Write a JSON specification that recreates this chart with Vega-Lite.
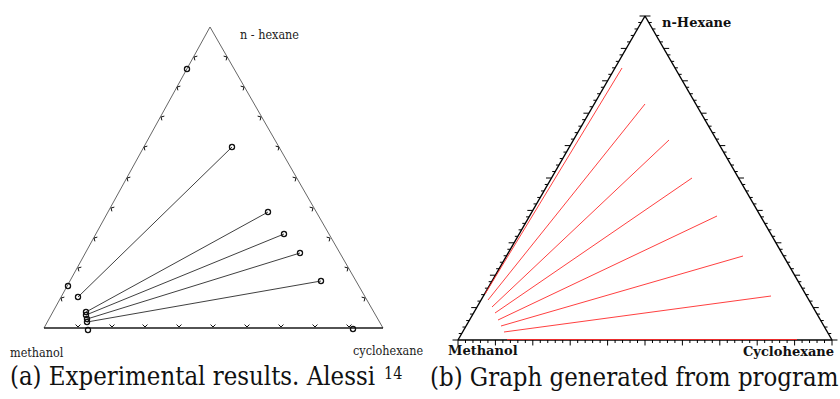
{
"$schema": "https://vega.github.io/schema/vega-lite/v6.json",
"width": 840, "height": 399, "autosize": "none", "padding": 0,
"background": "white",
"config": {"view": {"stroke": null}},
"datasets": {
"aSides": [{"x":44,"y":328,"x2":210,"y2":27},{"x":210,"y":27,"x2":383,"y2":328}],
"aBase": [{"x":44,"y":328,"x2":383,"y2":328}],
"aTickB": [{"x":78,"y":327},{"x":112,"y":327},{"x":145,"y":327},{"x":179,"y":327},{"x":213,"y":327},{"x":247,"y":327},{"x":281,"y":327},{"x":315,"y":327},{"x":349,"y":327}],
"aTickL": [{"x":61,"y":298},{"x":78,"y":268},{"x":94,"y":238},{"x":111,"y":208},{"x":127,"y":178},{"x":144,"y":147},{"x":161,"y":117},{"x":177,"y":87},{"x":194,"y":57}],
"aTickR": [{"x":365,"y":298},{"x":348,"y":268},{"x":330,"y":238},{"x":313,"y":208},{"x":296,"y":178},{"x":279,"y":147},{"x":261,"y":117},{"x":244,"y":87},{"x":227,"y":57}],
"aTies": [{"x":78,"y":297,"x2":232,"y2":147},{"x":86,"y":312,"x2":268,"y2":212},{"x":86,"y":315,"x2":284,"y2":234},{"x":87,"y":319,"x2":300,"y2":253},{"x":87,"y":322,"x2":321,"y2":281}],
"aPts": [{"x":187,"y":69},{"x":68,"y":286},{"x":78,"y":297},{"x":232,"y":147},{"x":268,"y":212},{"x":284,"y":234},{"x":300,"y":253},{"x":321,"y":281},{"x":86,"y":312},{"x":86,"y":315},{"x":87,"y":319},{"x":87,"y":322},{"x":88,"y":330},{"x":353,"y":329}],
"aLabels": [{"t":"n - hexane","x":240,"y":39},{"t":"methanol","x":10,"y":357},{"t":"cyclohexane","x":353,"y":355}],
"bEdges": [{"x":458,"y":340,"x2":645,"y2":16},{"x":645,"y":16,"x2":832,"y2":340},{"x":458,"y":340,"x2":832,"y2":340}],
"bTicks": [
{"e":"bottom","x":458,"y":340,"k":"major"},{"e":"bottom","x":465.48,"y":340,"k":"minor"},{"e":"bottom","x":472.96,"y":340,"k":"minor"},{"e":"bottom","x":480.44,"y":340,"k":"minor"},{"e":"bottom","x":487.92,"y":340,"k":"minor"},
{"e":"bottom","x":495.4,"y":340,"k":"major"},{"e":"bottom","x":502.88,"y":340,"k":"minor"},{"e":"bottom","x":510.36,"y":340,"k":"minor"},{"e":"bottom","x":517.84,"y":340,"k":"minor"},{"e":"bottom","x":525.32,"y":340,"k":"minor"},
{"e":"bottom","x":532.8,"y":340,"k":"major"},{"e":"bottom","x":540.28,"y":340,"k":"minor"},{"e":"bottom","x":547.76,"y":340,"k":"minor"},{"e":"bottom","x":555.24,"y":340,"k":"minor"},{"e":"bottom","x":562.72,"y":340,"k":"minor"},
{"e":"bottom","x":570.2,"y":340,"k":"major"},{"e":"bottom","x":577.68,"y":340,"k":"minor"},{"e":"bottom","x":585.16,"y":340,"k":"minor"},{"e":"bottom","x":592.64,"y":340,"k":"minor"},{"e":"bottom","x":600.12,"y":340,"k":"minor"},
{"e":"bottom","x":607.6,"y":340,"k":"major"},{"e":"bottom","x":615.08,"y":340,"k":"minor"},{"e":"bottom","x":622.56,"y":340,"k":"minor"},{"e":"bottom","x":630.04,"y":340,"k":"minor"},{"e":"bottom","x":637.52,"y":340,"k":"minor"},
{"e":"bottom","x":645,"y":340,"k":"major"},{"e":"bottom","x":652.48,"y":340,"k":"minor"},{"e":"bottom","x":659.96,"y":340,"k":"minor"},{"e":"bottom","x":667.44,"y":340,"k":"minor"},{"e":"bottom","x":674.92,"y":340,"k":"minor"},
{"e":"bottom","x":682.4,"y":340,"k":"major"},{"e":"bottom","x":689.88,"y":340,"k":"minor"},{"e":"bottom","x":697.36,"y":340,"k":"minor"},{"e":"bottom","x":704.84,"y":340,"k":"minor"},{"e":"bottom","x":712.32,"y":340,"k":"minor"},
{"e":"bottom","x":719.8,"y":340,"k":"major"},{"e":"bottom","x":727.28,"y":340,"k":"minor"},{"e":"bottom","x":734.76,"y":340,"k":"minor"},{"e":"bottom","x":742.24,"y":340,"k":"minor"},{"e":"bottom","x":749.72,"y":340,"k":"minor"},
{"e":"bottom","x":757.2,"y":340,"k":"major"},{"e":"bottom","x":764.68,"y":340,"k":"minor"},{"e":"bottom","x":772.16,"y":340,"k":"minor"},{"e":"bottom","x":779.64,"y":340,"k":"minor"},{"e":"bottom","x":787.12,"y":340,"k":"minor"},
{"e":"bottom","x":794.6,"y":340,"k":"major"},{"e":"bottom","x":802.08,"y":340,"k":"minor"},{"e":"bottom","x":809.56,"y":340,"k":"minor"},{"e":"bottom","x":817.04,"y":340,"k":"minor"},{"e":"bottom","x":824.52,"y":340,"k":"minor"},
{"e":"bottom","x":832,"y":340,"k":"major"},
{"e":"left","x":458,"y":340,"k":"major"},{"e":"left","x":461.74,"y":333.52,"k":"minor"},{"e":"left","x":465.48,"y":327.04,"k":"minor"},{"e":"left","x":469.22,"y":320.56,"k":"minor"},{"e":"left","x":472.96,"y":314.08,"k":"minor"},
{"e":"left","x":476.7,"y":307.6,"k":"major"},{"e":"left","x":480.44,"y":301.12,"k":"minor"},{"e":"left","x":484.18,"y":294.64,"k":"minor"},{"e":"left","x":487.92,"y":288.16,"k":"minor"},{"e":"left","x":491.66,"y":281.68,"k":"minor"},
{"e":"left","x":495.4,"y":275.2,"k":"major"},{"e":"left","x":499.14,"y":268.72,"k":"minor"},{"e":"left","x":502.88,"y":262.24,"k":"minor"},{"e":"left","x":506.62,"y":255.76,"k":"minor"},{"e":"left","x":510.36,"y":249.28,"k":"minor"},
{"e":"left","x":514.1,"y":242.8,"k":"major"},{"e":"left","x":517.84,"y":236.32,"k":"minor"},{"e":"left","x":521.58,"y":229.84,"k":"minor"},{"e":"left","x":525.32,"y":223.36,"k":"minor"},{"e":"left","x":529.06,"y":216.88,"k":"minor"},
{"e":"left","x":532.8,"y":210.4,"k":"major"},{"e":"left","x":536.54,"y":203.92,"k":"minor"},{"e":"left","x":540.28,"y":197.44,"k":"minor"},{"e":"left","x":544.02,"y":190.96,"k":"minor"},{"e":"left","x":547.76,"y":184.48,"k":"minor"},
{"e":"left","x":551.5,"y":178,"k":"major"},{"e":"left","x":555.24,"y":171.52,"k":"minor"},{"e":"left","x":558.98,"y":165.04,"k":"minor"},{"e":"left","x":562.72,"y":158.56,"k":"minor"},{"e":"left","x":566.46,"y":152.08,"k":"minor"},
{"e":"left","x":570.2,"y":145.6,"k":"major"},{"e":"left","x":573.94,"y":139.12,"k":"minor"},{"e":"left","x":577.68,"y":132.64,"k":"minor"},{"e":"left","x":581.42,"y":126.16,"k":"minor"},{"e":"left","x":585.16,"y":119.68,"k":"minor"},
{"e":"left","x":588.9,"y":113.2,"k":"major"},{"e":"left","x":592.64,"y":106.72,"k":"minor"},{"e":"left","x":596.38,"y":100.24,"k":"minor"},{"e":"left","x":600.12,"y":93.76,"k":"minor"},{"e":"left","x":603.86,"y":87.28,"k":"minor"},
{"e":"left","x":607.6,"y":80.8,"k":"major"},{"e":"left","x":611.34,"y":74.32,"k":"minor"},{"e":"left","x":615.08,"y":67.84,"k":"minor"},{"e":"left","x":618.82,"y":61.36,"k":"minor"},{"e":"left","x":622.56,"y":54.88,"k":"minor"},
{"e":"left","x":626.3,"y":48.4,"k":"major"},{"e":"left","x":630.04,"y":41.92,"k":"minor"},{"e":"left","x":633.78,"y":35.44,"k":"minor"},{"e":"left","x":637.52,"y":28.96,"k":"minor"},{"e":"left","x":641.26,"y":22.48,"k":"minor"},
{"e":"left","x":645,"y":16,"k":"major"},
{"e":"right","x":832,"y":340,"k":"major"},{"e":"right","x":828.26,"y":333.52,"k":"minor"},{"e":"right","x":824.52,"y":327.04,"k":"minor"},{"e":"right","x":820.78,"y":320.56,"k":"minor"},{"e":"right","x":817.04,"y":314.08,"k":"minor"},
{"e":"right","x":813.3,"y":307.6,"k":"major"},{"e":"right","x":809.56,"y":301.12,"k":"minor"},{"e":"right","x":805.82,"y":294.64,"k":"minor"},{"e":"right","x":802.08,"y":288.16,"k":"minor"},{"e":"right","x":798.34,"y":281.68,"k":"minor"},
{"e":"right","x":794.6,"y":275.2,"k":"major"},{"e":"right","x":790.86,"y":268.72,"k":"minor"},{"e":"right","x":787.12,"y":262.24,"k":"minor"},{"e":"right","x":783.38,"y":255.76,"k":"minor"},{"e":"right","x":779.64,"y":249.28,"k":"minor"},
{"e":"right","x":775.9,"y":242.8,"k":"major"},{"e":"right","x":772.16,"y":236.32,"k":"minor"},{"e":"right","x":768.42,"y":229.84,"k":"minor"},{"e":"right","x":764.68,"y":223.36,"k":"minor"},{"e":"right","x":760.94,"y":216.88,"k":"minor"},
{"e":"right","x":757.2,"y":210.4,"k":"major"},{"e":"right","x":753.46,"y":203.92,"k":"minor"},{"e":"right","x":749.72,"y":197.44,"k":"minor"},{"e":"right","x":745.98,"y":190.96,"k":"minor"},{"e":"right","x":742.24,"y":184.48,"k":"minor"},
{"e":"right","x":738.5,"y":178,"k":"major"},{"e":"right","x":734.76,"y":171.52,"k":"minor"},{"e":"right","x":731.02,"y":165.04,"k":"minor"},{"e":"right","x":727.28,"y":158.56,"k":"minor"},{"e":"right","x":723.54,"y":152.08,"k":"minor"},
{"e":"right","x":719.8,"y":145.6,"k":"major"},{"e":"right","x":716.06,"y":139.12,"k":"minor"},{"e":"right","x":712.32,"y":132.64,"k":"minor"},{"e":"right","x":708.58,"y":126.16,"k":"minor"},{"e":"right","x":704.84,"y":119.68,"k":"minor"},
{"e":"right","x":701.1,"y":113.2,"k":"major"},{"e":"right","x":697.36,"y":106.72,"k":"minor"},{"e":"right","x":693.62,"y":100.24,"k":"minor"},{"e":"right","x":689.88,"y":93.76,"k":"minor"},{"e":"right","x":686.14,"y":87.28,"k":"minor"},
{"e":"right","x":682.4,"y":80.8,"k":"major"},{"e":"right","x":678.66,"y":74.32,"k":"minor"},{"e":"right","x":674.92,"y":67.84,"k":"minor"},{"e":"right","x":671.18,"y":61.36,"k":"minor"},{"e":"right","x":667.44,"y":54.88,"k":"minor"},
{"e":"right","x":663.7,"y":48.4,"k":"major"},{"e":"right","x":659.96,"y":41.92,"k":"minor"},{"e":"right","x":656.22,"y":35.44,"k":"minor"},{"e":"right","x":652.48,"y":28.96,"k":"minor"},{"e":"right","x":648.74,"y":22.48,"k":"minor"},
{"e":"right","x":645,"y":16,"k":"major"}
],
"bLines": [{"x":485,"y":294,"x2":622,"y2":68},{"x":488,"y":300,"x2":645,"y2":104},{"x":492,"y":307,"x2":669,"y2":140},{"x":495,"y":313,"x2":692,"y2":178},{"x":498,"y":320,"x2":717,"y2":216},{"x":501,"y":326,"x2":743,"y2":256},{"x":504,"y":332,"x2":771,"y2":296},{"x":507,"y":339.5,"x2":797,"y2":339.5}],
"bLabels": [{"t":"n-Hexane","x":662,"y":27},{"t":"Methanol","x":448,"y":355},{"t":"Cyclohexane","x":743,"y":356}],
"captions": [{"t":"(a) Experimental results. Alessi","x":10,"y":385},{"t":"(b) Graph generated from program","x":430,"y":386}],
"sup": [{"t":"14","x":384,"y":379}]
},
"encoding": {
"x": {"field":"x","type":"quantitative","scale":{"domain":[0,840],"nice":false,"zero":false},"axis":null},
"y": {"field":"y","type":"quantitative","scale":{"domain":[0,399],"nice":false,"zero":false,"reverse":true},"axis":null}
},
"layer": [
{"data":{"name":"aSides"},"mark":{"type":"rule","color":"#555","strokeWidth":0.9},"encoding":{"x2":{"field":"x2"},"y2":{"field":"y2"}}},
{"data":{"name":"aBase"},"mark":{"type":"rule","color":"#1a1a1a","strokeWidth":1.3},"encoding":{"x2":{"field":"x2"},"y2":{"field":"y2"}}},
{"data":{"name":"aTickB"},"mark":{"type":"point","shape":"M-1,-1L0,0L1,-1","filled":false,"color":"#111","strokeWidth":1,"size":24,"opacity":1}},
{"data":{"name":"aTickL"},"mark":{"type":"point","shape":"M1.37,-0.37L0,0L0.37,1.37","filled":false,"color":"#111","strokeWidth":1,"size":24,"opacity":1}},
{"data":{"name":"aTickR"},"mark":{"type":"point","shape":"M-0.37,1.37L0,0L-1.37,-0.37","filled":false,"color":"#111","strokeWidth":1,"size":24,"opacity":1}},
{"data":{"name":"aTies"},"mark":{"type":"rule","color":"#2a2a2a","strokeWidth":0.9},"encoding":{"x2":{"field":"x2"},"y2":{"field":"y2"}}},
{"data":{"name":"aPts"},"mark":{"type":"point","shape":"circle","filled":false,"color":"#111","strokeWidth":1.3,"size":26,"opacity":1}},
{"data":{"name":"aLabels"},"mark":{"type":"text","align":"left","baseline":"alphabetic","font":"DejaVu Serif Condensed, DejaVu Serif","fontSize":12.5,"color":"#222"},"encoding":{"text":{"field":"t"}}},
{"data":{"name":"bEdges"},"mark":{"type":"rule","color":"#000","strokeWidth":1.4},"encoding":{"x2":{"field":"x2"},"y2":{"field":"y2"}}},
{"data":{"name":"bTicks"},"mark":{"type":"point","filled":false,"color":"#000","strokeWidth":1,"opacity":1},"encoding":{
  "shape":{"field":"e","type":"nominal","scale":{"domain":["bottom","left","right"],"range":["M0,0V2","M0,0H-2","M0,0H2"]},"legend":null},
  "size":{"field":"k","type":"ordinal","scale":{"domain":["major","minor"],"range":[30,9]},"legend":null}}},
{"data":{"name":"bLines"},"mark":{"type":"rule","color":"#ff2a2a","strokeWidth":0.9},"encoding":{"x2":{"field":"x2"},"y2":{"field":"y2"}}},
{"data":{"name":"bLabels"},"mark":{"type":"text","align":"left","baseline":"alphabetic","font":"DejaVu Serif","fontWeight":"bold","fontSize":13,"color":"#111"},"encoding":{"text":{"field":"t"}}},
{"data":{"name":"captions"},"mark":{"type":"text","align":"left","baseline":"alphabetic","font":"DejaVu Serif Condensed, DejaVu Serif","fontSize":25.5,"color":"#111"},"encoding":{"text":{"field":"t"}}},
{"data":{"name":"sup"},"mark":{"type":"text","align":"left","baseline":"alphabetic","font":"DejaVu Serif Condensed, DejaVu Serif","fontSize":16,"color":"#111"},"encoding":{"text":{"field":"t"}}}
]
}
